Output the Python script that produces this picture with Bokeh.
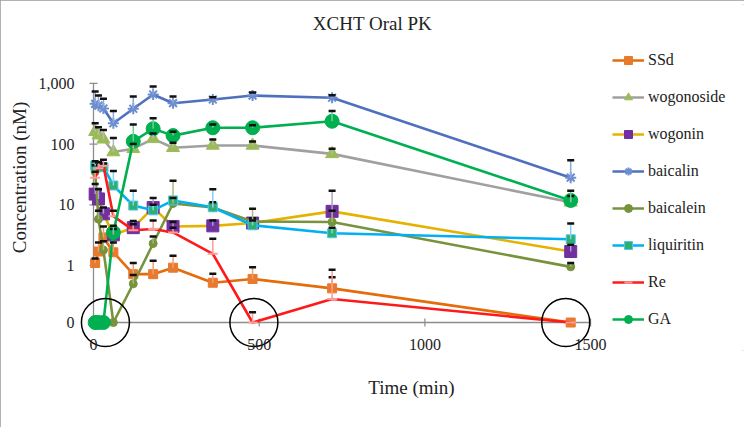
import math
from bokeh.plotting import figure
from bokeh.models import (ColumnDataSource, Range1d, FixedTicker, CustomJSTickFormatter,
                          Legend, LegendItem, Whisker, TeeHead, Label)
from bokeh.embed import file_html
from bokeh.resources import INLINE

# ---------------- data ----------------
times = [5, 15, 30, 60, 120, 180, 240, 360, 480, 720, 1440]

ssd        = [1.1, 1.7, 2.9, 1.65, 0.72, 0.72, 0.92, 0.52, 0.6, 0.42, 0]
ssd_up     = [1.3, 2.4, 4.4, 2.4, 1.1, 1.2, 1.45, 0.73, 0.94, 0.64, 0]

wogonoside    = [160, 140, 120, 74, 84, 122, 87, 95, 95, 69, 11]
wogonoside_up = [220, 190, 170, 126, 100, 150, 105, 119, 110, 84, 14]

wogonin    = [15, 12.5, 7.1, 3.2, 4.2, 9.0, 4.4, 4.5, 5.0, 7.8, 1.7]
wogonin_up = [22, 18, 9, 4.0, 5.4, 13, 5.2, 5.5, 6.0, 17, 2.2]

baicalin    = [461, 430, 386, 221, 382, 656, 472, 543, 631, 580, 28]
baicalin_up = [735, 630, 560, 350, 610, 890, 610, 590, 710, 640, 54]

baicalein    = [35, 5.8, 1.8, 0, 0.5, 2.3, 10.5, 9.0, 5.3, 5.2, 0.95]
baicalein_up = [45, 8, 2.5, 0, 0.7, 3.0, 25, 11, 8.6, 8.0, 1.1]

liquiritin    = [44, 43, 41.6, 20.8, 9.7, 8.1, 11.8, 9.1, 4.6, 3.4, 2.7]
liquiritin_up = [52, 50, 48, 36, 17, 10, 13, 18, 5.5, 4.2, 4.9]

re_vals = [28, 40, 44, 6.5, 3.8, 4.0, 3.5, 1.56, 0, 0.28, 0]
re_up   = [35, 50, 55, 8, 4.8, 5.5, 4.2, 2.75, 0.17, 0.85, 0]

ga    = [0, 0, 0, 3.5, 111, 179, 138, 186, 186, 238, 11.8]
ga_up = [0, 0, 0, 4.5, 210, 266, 160, 210, 205, 350, 17]

series_names = ["SSd", "wogonoside", "wogonin", "baicalin", "baicalein", "liquiritin", "Re", "GA"]
series_vals = [ssd, wogonoside, wogonin, baicalin, baicalein, liquiritin, re_vals, ga]
series_up = [ssd_up, wogonoside_up, wogonin_up, baicalin_up, baicalein_up, liquiritin_up, re_up, ga_up]

y_ticks = [0, 1, 10, 100, 1000]
y_tick_labels = ["0", "1", "10", "100", "1,000"]
x_ticks = [0, 500, 1000, 1500]
highlight_times = [36, 484, 1425]   # black circles around the zero values

# ---------------- styles / layout ----------------
ZERO = 0.115            # where "0" sits on the log axis
DECADE_PX = 60.7        # pixels per decade
Y_ONE_PX = 265          # screen y of the value 1
X0_PX, PX = 93, 512 / 1545.0   # screen x of t=0, pixels per minute

line_colors = ["#E46C0A", "#A0A0A0", "#E3B300", "#4F6FBF", "#77933C", "#00B0F0", "#FF1A1A", "#00B050"]
markers = ["square", "triangle", "square", "asterisk", "circle", "square", "dash", "circle"]
m_fill = ["#E87A2E", "#9BBB59", "#7030A0", "#8DB0E6", "#77933C", "#2EAF6E", "#FF9A9A", "#00B050"]
m_line = ["#E87A2E", "#9BBB59", "#7030A0", "#6C8ED0", "#77933C", "#4FC8F0", "#FF9A9A", "#00B050"]
m_size = [9, 13, 12, 11, 8, 9, 10, 14]
err_colors = ["#F0A070", "#B8B8B8", "#B0A0C8", "#8EA8DC", "#A8B880", "#80D4F4", "#FF9A9A", "#70D09A"]
AXIS_GRAY = "#8C8C8C"
TXT = "#222222"
FONT = "Liberation Serif"


def ylog(py):
    return 10 ** ((Y_ONE_PX - py) / DECADE_PX)


def xmin(px):
    return (px - X0_PX) / PX


FRAME_L, FRAME_R, FRAME_T, FRAME_B = 78, 744, 4, 350
p = figure(frame_width=FRAME_R - FRAME_L, frame_height=FRAME_B - FRAME_T,
           x_range=Range1d(xmin(FRAME_L), xmin(FRAME_R)),
           y_range=Range1d(ylog(FRAME_B), ylog(FRAME_T)),
           y_axis_type="log", output_backend="svg", toolbar_location=None,
           min_border_left=FRAME_L, min_border_right=0, min_border_top=FRAME_T,
           min_border_bottom=427 - FRAME_B)
p.outline_line_color = None
p.grid.visible = False
p.background_fill_color = "white"
p.border_fill_color = "white"
p.styles = {"outline": "2px solid #9a9a9a", "outline-offset": "-2px"}

# axes: the library's axes give the tick labels and titles; the axis lines are drawn at the data zero
p.xaxis.ticker = FixedTicker(ticks=x_ticks, minor_ticks=[])
p.xaxis.bounds = (0, 1925)   # centres the axis title where the original has it
p.xaxis.axis_label = "Time (min)"
p.xaxis.major_label_standoff = -12
p.xaxis.axis_label_standoff = 24

p.yaxis.ticker = FixedTicker(ticks=[ZERO if t == 0 else t for t in y_ticks], minor_ticks=[])
p.yaxis.formatter = CustomJSTickFormatter(
    args=dict(labels=y_tick_labels),
    code="if (tick < 0.5) { return labels[0]; } return tick.toLocaleString('en-US');")
p.yaxis.bounds = (ZERO * 0.999, 1000.5)
p.yaxis.axis_label = "Concentration (nM)"
p.yaxis.major_label_standoff = 4
p.yaxis.axis_label_standoff = 6

for ax in (p.xaxis, p.yaxis):
    ax.axis_line_color = None
    ax.major_tick_line_color = None
    ax.minor_tick_line_color = None
    ax.major_tick_out = 0
    ax.major_tick_in = 0
    ax.major_label_text_font = FONT
    ax.major_label_text_font_size = "16px"
    ax.major_label_text_color = TXT
    ax.axis_label_text_font = FONT
    ax.axis_label_text_font_size = "19px"
    ax.axis_label_text_font_style = "normal"
    ax.axis_label_text_color = TXT

# axis lines and tick marks at the data origin
y_tick_vals = [ZERO if t == 0 else t for t in y_ticks]
p.line(x=[x_ticks[0], x_ticks[-1]], y=[ZERO, ZERO], line_color=AXIS_GRAY, line_width=1.3)
p.line(x=[0, 0], y=[ZERO, y_tick_vals[-1]], line_color=AXIS_GRAY, line_width=1.3)
p.scatter(x=x_ticks[1:], y=[ZERO] * (len(x_ticks) - 1), marker="dash", angle=math.pi / 2,
          size=8, line_color=AXIS_GRAY, line_width=1.2)
p.scatter(x=[0] * len(y_tick_vals), y=y_tick_vals, marker="dash", size=8,
          line_color=AXIS_GRAY, line_width=1.2)

items = []
for name, vals, ups, lc, mk, mf, ml, ms, ec in zip(series_names, series_vals, series_up, line_colors,
                                                  markers, m_fill, m_line, m_size, err_colors):
    y = [v if v > 0 else ZERO for v in vals]
    src = ColumnDataSource(dict(x=times, y=y))
    bx, bl, bu = [], [], []
    for t, v, u in zip(times, y, ups):
        if u > 0 and u > v:
            bx.append(t); bl.append(v); bu.append(u)
    if bx:
        esrc = ColumnDataSource(dict(base=bx, lower=bl, upper=bu))
        w = Whisker(source=esrc, base="base", lower="lower", upper="upper", dimension="height",
                    line_color=ec, line_width=1.5, lower_head=None,
                    upper_head=TeeHead(size=7, line_color="#111111", line_width=2.5), level="glyph")
        p.add_layout(w)
    ln = p.line("x", "y", source=src, line_color=lc, line_width=2.6)
    sc = p.scatter("x", "y", source=src, marker=mk, size=ms, fill_color=mf, line_color=ml,
                   line_width=2 if mk in ("asterisk", "dash") else 1)
    items.append(LegendItem(label=name, renderers=[ln, sc]))

# black circles around the zero points
p.scatter(x=highlight_times, y=[ZERO] * len(highlight_times), marker="circle", size=48,
          fill_color=None, line_color="black", line_width=1.5)

# legend: top-left corner at (612, 50) on screen
LEG_L, LEG_T = 612, 50
legend = Legend(items=items)
legend.label_text_font = FONT
legend.label_text_font_size = "16px"
legend.label_text_color = TXT
legend.glyph_width = 32
legend.glyph_height = 20
legend.label_height = 20
legend.spacing = 17
legend.padding = 0
legend.margin = 0
legend.label_standoff = 4
legend.border_line_color = None
legend.background_fill_alpha = 0
n = len(items)
leg_h = n * 20 + (n - 1) * 17
legend.location = (LEG_L - FRAME_L, FRAME_B - (LEG_T + leg_h))
p.add_layout(legend)

p.add_layout(Label(x=xmin(372), y=ylog(23), text="XCHT Oral PK", text_font=FONT,
                   text_font_size="19px", text_align="center", text_baseline="middle",
                   text_color=TXT))

open("out.html", "w").write(file_html(p, INLINE))
